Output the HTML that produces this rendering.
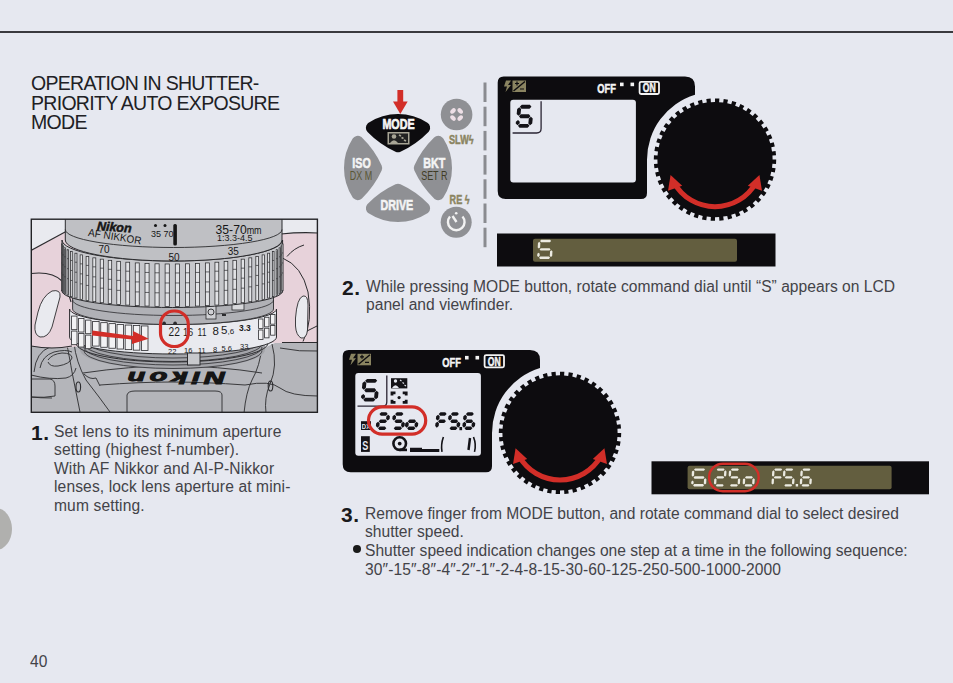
<!DOCTYPE html>
<html><head><meta charset="utf-8">
<style>
html,body{margin:0;padding:0;}
body{width:953px;height:683px;position:relative;overflow:hidden;background:#e6e8f0;font-family:"Liberation Sans",sans-serif;color:#222;}
.a{position:absolute;}
.rule{left:0;top:31px;width:953px;height:2px;background:#3a3a3e;}
.title{left:31px;top:74px;font-size:19.5px;line-height:19.6px;letter-spacing:-0.7px;color:#202024;white-space:nowrap;}
.txt{font-size:15.6px;white-space:nowrap;color:#434348;}
.num{font-weight:bold;font-size:21px;line-height:21px;color:#1a1a1c;letter-spacing:0.6px;}
</style></head><body>
<svg class="a" style="left:0;top:0" width="953" height="683" viewBox="0 0 953 683"><path d="M398,146.2 Q383.2,139.42 371.86,127.74 A48,48 0 0 1 424.14,127.74 Q412.8,139.42 398,146.2 Z" fill="#0d0c0f" stroke="#0d0c0f" stroke-width="12" stroke-linejoin="round"/><path d="M376.2,168 Q369.42,182.8 357.74,194.14 A48,48 0 0 1 357.74,141.86 Q369.42,153.2 376.2,168 Z" fill="#8f9094" stroke="#8f9094" stroke-width="12" stroke-linejoin="round"/><path d="M419.8,168 Q426.58,153.2 438.26,141.86 A48,48 0 0 1 438.26,194.14 Q426.58,182.8 419.8,168 Z" fill="#8f9094" stroke="#8f9094" stroke-width="12" stroke-linejoin="round"/><path d="M398,189.8 Q412.8,196.58 424.14,208.26 A48,48 0 0 1 371.86,208.26 Q383.2,196.58 398,189.8 Z" fill="#8f9094" stroke="#8f9094" stroke-width="12" stroke-linejoin="round"/><rect x="397.4" y="90" width="5.8" height="12" fill="#d22e28"/><path d="M393,101.5 L407.7,101.5 L400.3,114 Z" fill="#d22e28"/><text x="398.5" y="129.3" font-family="Liberation Sans" font-weight="bold" font-size="14.5" fill="#f6f6f6" stroke="#f6f6f6" stroke-width="0.7" text-anchor="middle" transform="translate(398.5,0) scale(0.74,1) translate(-398.5,0)">MODE</text><rect x="387.5" y="132" width="22" height="12.5" fill="#a8a596" /><rect x="389" y="133.5" width="19" height="9.5" fill="#222" /><circle cx="394" cy="136.5" r="2.3" fill="#a8a596"/><path d="M390,143 Q394,137.5 398,143 Z" fill="#a8a596"/><path d="M399,135 l2,1 M401.5,137.5 l2,1 M404,140 l2,1" stroke="#a8a596" stroke-width="1.6"/><text x="361.5" y="167.6" font-family="Liberation Sans" font-weight="bold" font-size="14.5" fill="#f4f4f4" stroke="#f4f4f4" stroke-width="0.6" text-anchor="middle" transform="translate(361.5,0) scale(0.74,1) translate(-361.5,0)">ISO</text><text x="361" y="180.5" font-family="Liberation Sans" font-weight="normal" font-size="12.5" fill="#5a5636" text-anchor="middle" transform="translate(361,0) scale(0.72,1) translate(-361,0)">DX M</text><text x="434.3" y="167.6" font-family="Liberation Sans" font-weight="bold" font-size="14.5" fill="#f4f4f4" stroke="#f4f4f4" stroke-width="0.6" text-anchor="middle" transform="translate(434.3,0) scale(0.74,1) translate(-434.3,0)">BKT</text><text x="434.3" y="180.5" font-family="Liberation Sans" font-weight="normal" font-size="12.5" fill="#3f3c26" text-anchor="middle" transform="translate(434.3,0) scale(0.72,1) translate(-434.3,0)">SET R</text><text x="396.8" y="210.4" font-family="Liberation Sans" font-weight="bold" font-size="14.5" fill="#f4f4f4" stroke="#f4f4f4" stroke-width="0.6" text-anchor="middle" transform="translate(396.8,0) scale(0.74,1) translate(-396.8,0)">DRIVE</text><circle cx="456.6" cy="114.5" r="15.8" fill="#8f9094"/><g fill="#eedfe6" transform="rotate(45 456.6 114.5)"><ellipse cx="456.6" cy="109.4" rx="3.2" ry="2.1"/><ellipse cx="456.6" cy="119.6" rx="3.2" ry="2.1"/><ellipse cx="451.5" cy="114.5" rx="2.1" ry="3.2"/><ellipse cx="461.7" cy="114.5" rx="2.1" ry="3.2"/></g><circle cx="456.2" cy="222.3" r="15.5" fill="#8f9094"/><path d="M450,216.5 A8.3,8.3 0 1 0 462.5,216.5" fill="none" stroke="#f2f2f2" stroke-width="2.4"/><path d="M452.5,216 L456.5,222" stroke="#f2f2f2" stroke-width="2.4"/><circle cx="456.2" cy="213.2" r="1.3" fill="#f2f2f2"/><text x="461.3" y="143.6" font-family="Liberation Sans" font-weight="bold" font-size="13" fill="#8a8461" stroke="#8a8461" stroke-width="0.5" text-anchor="middle" transform="translate(461.3,0) scale(0.7,1) translate(-461.3,0)">SLW&#x03DF;</text><text x="459.6" y="204" font-family="Liberation Sans" font-weight="bold" font-size="13" fill="#8a8461" stroke="#8a8461" stroke-width="0.5" text-anchor="middle" transform="translate(459.6,0) scale(0.7,1) translate(-459.6,0)">RE &#x03DF;</text><rect x="483.5" y="82.5" width="3" height="19.5" fill="#8a8b90"/><rect x="483.5" y="106.7" width="3" height="19.5" fill="#8a8b90"/><rect x="483.5" y="130.9" width="3" height="19.5" fill="#8a8b90"/><rect x="483.5" y="155.1" width="3" height="19.5" fill="#8a8b90"/><rect x="483.5" y="179.3" width="3" height="19.5" fill="#8a8b90"/><rect x="483.5" y="203.5" width="3" height="19.5" fill="#8a8b90"/><rect x="483.5" y="227.7" width="3" height="19.5" fill="#8a8b90"/><g transform="translate(0,0)"><path d="M503.7,76.6 L685,76.6 Q695,76.6 695,86.6 L695,94.71 A68,68 0 0 0 647,159.7 L647,193 Q647,199 641,199 L505.7,199 Q497.7,199 497.7,191 L497.7,82.6 Q497.7,76.6 503.7,76.6 Z" fill="#0d0c0f"/><rect x="510.3" y="99.7" width="125.6" height="82.7" rx="3" fill="#e6e8f0"/><path d="M772.6,159.6 L776.2,159.6 L776.04,163.97 L772.45,163.71 L772.01,167.8 L775.58,168.31 L774.8,172.61 L771.28,171.84 L770.27,175.83 L773.72,176.84 L772.34,180.99 L768.97,179.73 L767.39,183.53 L770.67,185.02 L768.71,188.93 L765.55,187.2 L763.46,190.74 L766.48,192.69 L763.99,196.28 L761.11,194.12 L758.53,197.32 L761.25,199.68 L758.27,202.87 L755.73,200.33 L752.72,203.13 L755.08,205.85 L751.68,208.59 L749.52,205.71 L746.14,208.06 L748.09,211.08 L744.33,213.31 L742.6,210.15 L738.93,211.99 L740.42,215.27 L736.39,216.94 L735.13,213.57 L731.23,214.87 L732.24,218.32 L728.01,219.4 L727.24,215.88 L723.2,216.61 L723.71,220.18 L719.37,220.64 L719.11,217.05 L715,217.2 L715,220.8 L710.63,220.64 L710.89,217.05 L706.8,216.61 L706.29,220.18 L701.99,219.4 L702.76,215.88 L698.77,214.87 L697.76,218.32 L693.61,216.94 L694.87,213.57 L691.07,211.99 L689.58,215.27 L685.67,213.31 L687.4,210.15 L683.86,208.06 L681.91,211.08 L678.32,208.59 L680.48,205.71 L677.28,203.13 L674.92,205.85 L671.73,202.87 L674.27,200.33 L671.47,197.32 L668.75,199.68 L666.01,196.28 L668.89,194.12 L666.54,190.74 L663.52,192.69 L661.29,188.93 L664.45,187.2 L662.61,183.53 L659.33,185.02 L657.66,180.99 L661.03,179.73 L659.73,175.83 L656.28,176.84 L655.2,172.61 L658.72,171.84 L657.99,167.8 L654.42,168.31 L653.96,163.97 L657.55,163.71 L657.4,159.6 L653.8,159.6 L653.96,155.23 L657.55,155.49 L657.99,151.4 L654.42,150.89 L655.2,146.59 L658.72,147.36 L659.73,143.37 L656.28,142.36 L657.66,138.21 L661.03,139.47 L662.61,135.67 L659.33,134.18 L661.29,130.27 L664.45,132 L666.54,128.46 L663.52,126.51 L666.01,122.92 L668.89,125.08 L671.47,121.88 L668.75,119.52 L671.73,116.33 L674.27,118.87 L677.28,116.07 L674.92,113.35 L678.32,110.61 L680.48,113.49 L683.86,111.14 L681.91,108.12 L685.67,105.89 L687.4,109.05 L691.07,107.21 L689.58,103.93 L693.61,102.26 L694.87,105.63 L698.77,104.33 L697.76,100.88 L701.99,99.8 L702.76,103.32 L706.8,102.59 L706.29,99.02 L710.63,98.56 L710.89,102.15 L715,102 L715,98.4 L719.37,98.56 L719.11,102.15 L723.2,102.59 L723.71,99.02 L728.01,99.8 L727.24,103.32 L731.23,104.33 L732.24,100.88 L736.39,102.26 L735.13,105.63 L738.93,107.21 L740.42,103.93 L744.33,105.89 L742.6,109.05 L746.14,111.14 L748.09,108.12 L751.68,110.61 L749.52,113.49 L752.72,116.07 L755.08,113.35 L758.27,116.33 L755.73,118.87 L758.53,121.88 L761.25,119.52 L763.99,122.92 L761.11,125.08 L763.46,128.46 L766.48,126.51 L768.71,130.27 L765.55,132 L767.39,135.67 L770.67,134.18 L772.34,138.21 L768.97,139.47 L770.27,143.37 L773.72,142.36 L774.8,146.59 L771.28,147.36 L772.01,151.4 L775.58,150.89 L776.04,155.23 L772.45,155.49Z" fill="#0d0c0f"/><path d="M673.89,182.49 A47,47 0 0 0 756.11,182.49" fill="none" stroke="#d22e28" stroke-width="5"/><path d="M670.56,175 L682.21,185.8 L668.03,190.68 Z" fill="#d22e28"/><path d="M759.44,175 L761.97,190.68 L747.79,185.8 Z" fill="#d22e28"/><g fill="#8a8461"><path d="M506,80.5 L511,80.5 L508,85 L511,85 L505.5,92 L507,86.5 L504,86.5 Z"/><path d="M512.5,80.5 L526,80.5 L526,92 L512.5,92 Z"/></g><path d="M513.5,91 L525,81.5" stroke="#0d0c0f" stroke-width="1.4"/><path d="M515,83.5 h4 M517,81.5 v4 M520,89 h4" stroke="#0d0c0f" stroke-width="1.2"/><text x="606.5" y="93.3" font-family="Liberation Sans" font-weight="bold" font-size="13" fill="#f4f4f4" stroke="#f4f4f4" stroke-width="0.5" text-anchor="middle" transform="translate(606.5,0) scale(0.72,1) translate(-606.5,0)">OFF</text><rect x="620" y="82.6" width="3.6" height="3.6" fill="#f4f4f4"/><rect x="630.5" y="82.6" width="3.6" height="3.6" fill="#f4f4f4"/><rect x="639.6" y="81.8" width="19.4" height="12.2" rx="1.5" fill="none" stroke="#f4f4f4" stroke-width="1.8"/><text x="649.3" y="92.4" font-family="Liberation Sans" font-weight="bold" font-size="12" fill="#f4f4f4" stroke="#f4f4f4" stroke-width="0.5" text-anchor="middle" transform="translate(649.3,0) scale(0.72,1) translate(-649.3,0)">ON</text></g><g transform="translate(-155,273.3)"><path d="M503.7,76.6 L685,76.6 Q695,76.6 695,86.6 L695,94.71 A68,68 0 0 0 647,159.7 L647,193 Q647,199 641,199 L505.7,199 Q497.7,199 497.7,191 L497.7,82.6 Q497.7,76.6 503.7,76.6 Z" fill="#0d0c0f"/><rect x="510.3" y="99.7" width="125.6" height="82.7" rx="3" fill="#e6e8f0"/><path d="M772.6,159.6 L776.2,159.6 L776.04,163.97 L772.45,163.71 L772.01,167.8 L775.58,168.31 L774.8,172.61 L771.28,171.84 L770.27,175.83 L773.72,176.84 L772.34,180.99 L768.97,179.73 L767.39,183.53 L770.67,185.02 L768.71,188.93 L765.55,187.2 L763.46,190.74 L766.48,192.69 L763.99,196.28 L761.11,194.12 L758.53,197.32 L761.25,199.68 L758.27,202.87 L755.73,200.33 L752.72,203.13 L755.08,205.85 L751.68,208.59 L749.52,205.71 L746.14,208.06 L748.09,211.08 L744.33,213.31 L742.6,210.15 L738.93,211.99 L740.42,215.27 L736.39,216.94 L735.13,213.57 L731.23,214.87 L732.24,218.32 L728.01,219.4 L727.24,215.88 L723.2,216.61 L723.71,220.18 L719.37,220.64 L719.11,217.05 L715,217.2 L715,220.8 L710.63,220.64 L710.89,217.05 L706.8,216.61 L706.29,220.18 L701.99,219.4 L702.76,215.88 L698.77,214.87 L697.76,218.32 L693.61,216.94 L694.87,213.57 L691.07,211.99 L689.58,215.27 L685.67,213.31 L687.4,210.15 L683.86,208.06 L681.91,211.08 L678.32,208.59 L680.48,205.71 L677.28,203.13 L674.92,205.85 L671.73,202.87 L674.27,200.33 L671.47,197.32 L668.75,199.68 L666.01,196.28 L668.89,194.12 L666.54,190.74 L663.52,192.69 L661.29,188.93 L664.45,187.2 L662.61,183.53 L659.33,185.02 L657.66,180.99 L661.03,179.73 L659.73,175.83 L656.28,176.84 L655.2,172.61 L658.72,171.84 L657.99,167.8 L654.42,168.31 L653.96,163.97 L657.55,163.71 L657.4,159.6 L653.8,159.6 L653.96,155.23 L657.55,155.49 L657.99,151.4 L654.42,150.89 L655.2,146.59 L658.72,147.36 L659.73,143.37 L656.28,142.36 L657.66,138.21 L661.03,139.47 L662.61,135.67 L659.33,134.18 L661.29,130.27 L664.45,132 L666.54,128.46 L663.52,126.51 L666.01,122.92 L668.89,125.08 L671.47,121.88 L668.75,119.52 L671.73,116.33 L674.27,118.87 L677.28,116.07 L674.92,113.35 L678.32,110.61 L680.48,113.49 L683.86,111.14 L681.91,108.12 L685.67,105.89 L687.4,109.05 L691.07,107.21 L689.58,103.93 L693.61,102.26 L694.87,105.63 L698.77,104.33 L697.76,100.88 L701.99,99.8 L702.76,103.32 L706.8,102.59 L706.29,99.02 L710.63,98.56 L710.89,102.15 L715,102 L715,98.4 L719.37,98.56 L719.11,102.15 L723.2,102.59 L723.71,99.02 L728.01,99.8 L727.24,103.32 L731.23,104.33 L732.24,100.88 L736.39,102.26 L735.13,105.63 L738.93,107.21 L740.42,103.93 L744.33,105.89 L742.6,109.05 L746.14,111.14 L748.09,108.12 L751.68,110.61 L749.52,113.49 L752.72,116.07 L755.08,113.35 L758.27,116.33 L755.73,118.87 L758.53,121.88 L761.25,119.52 L763.99,122.92 L761.11,125.08 L763.46,128.46 L766.48,126.51 L768.71,130.27 L765.55,132 L767.39,135.67 L770.67,134.18 L772.34,138.21 L768.97,139.47 L770.27,143.37 L773.72,142.36 L774.8,146.59 L771.28,147.36 L772.01,151.4 L775.58,150.89 L776.04,155.23 L772.45,155.49Z" fill="#0d0c0f"/><path d="M673.89,182.49 A47,47 0 0 0 756.11,182.49" fill="none" stroke="#d22e28" stroke-width="5"/><path d="M670.56,175 L682.21,185.8 L668.03,190.68 Z" fill="#d22e28"/><path d="M759.44,175 L761.97,190.68 L747.79,185.8 Z" fill="#d22e28"/><g fill="#8a8461"><path d="M506,80.5 L511,80.5 L508,85 L511,85 L505.5,92 L507,86.5 L504,86.5 Z"/><path d="M512.5,80.5 L526,80.5 L526,92 L512.5,92 Z"/></g><path d="M513.5,91 L525,81.5" stroke="#0d0c0f" stroke-width="1.4"/><path d="M515,83.5 h4 M517,81.5 v4 M520,89 h4" stroke="#0d0c0f" stroke-width="1.2"/><text x="606.5" y="93.3" font-family="Liberation Sans" font-weight="bold" font-size="13" fill="#f4f4f4" stroke="#f4f4f4" stroke-width="0.5" text-anchor="middle" transform="translate(606.5,0) scale(0.72,1) translate(-606.5,0)">OFF</text><rect x="620" y="82.6" width="3.6" height="3.6" fill="#f4f4f4"/><rect x="630.5" y="82.6" width="3.6" height="3.6" fill="#f4f4f4"/><rect x="639.6" y="81.8" width="19.4" height="12.2" rx="1.5" fill="none" stroke="#f4f4f4" stroke-width="1.8"/><text x="649.3" y="92.4" font-family="Liberation Sans" font-weight="bold" font-size="12" fill="#f4f4f4" stroke="#f4f4f4" stroke-width="0.5" text-anchor="middle" transform="translate(649.3,0) scale(0.72,1) translate(-649.3,0)">ON</text></g><rect x="497" y="233.5" width="278.5" height="33" fill="#0d0c0f"/><rect x="533" y="238.7" width="204" height="23" rx="2" fill="#635e3f"/><rect x="651.5" y="461.3" width="277.5" height="33" fill="#0d0c0f"/><rect x="687.6" y="465.8" width="204" height="23.5" rx="2" fill="#635e3f"/><defs><clipPath id="bx"><rect x="31.3" y="219.2" width="286.09999999999997" height="193.10000000000002"/></clipPath></defs><g clip-path="url(#bx)"><rect x="31.3" y="219.2" width="286.09999999999997" height="193.10000000000002" fill="#e9eaef"/><path d="M31,346 L75,346 L90,352 Q172,372 255,352 L275,343 L318,343 L318,413 L31,413 Z" fill="#b4b5ba"/><g fill="none" stroke="#2b2b2e" stroke-width="0.9"><path d="M34,372 Q36,352 50,347 L72,346"/><path d="M40,368 Q42,356 54,352 Q66,349 72,352"/><path d="M48,360 Q52,354 62,353 Q72,353 72,358 Q70,364 58,366 Q50,367 48,362"/><path d="M31,375 Q50,380 66,378 Q74,376 76,368"/><path d="M31,379 L50,379 Q55,380 55,386 L55,396 Q45,398 31,397"/><path d="M66,340 Q70,360 72,372 Q76,392 80,412"/><path d="M74,343 Q76,362 86,380 Q100,398 110,412"/><path d="M83,373 Q130,366 172,366 Q218,366 262,373"/><path d="M100,385 Q140,382 172,382 Q205,382 245,385"/><path d="M84,374 Q90,380 96,378 L100,386"/><path d="M127,413 L127,395 Q128,391 135,391 L215,391 Q222,391 222,395 L222,413"/><path d="M262,346 Q260,366 252,380 Q246,392 244,413"/><path d="M272,344 Q278,366 270,384 Q264,398 266,413"/><path d="M280,348 Q300,352 318,351"/><path d="M245,385 Q270,380 280,388 Q290,396 318,396"/><path d="M31,397 Q40,398 52,398"/></g><ellipse cx="78.3" cy="387" rx="2.3" ry="5" fill="none" stroke="#2b2b2e" stroke-width="1.1"/><ellipse cx="270.5" cy="386" rx="2.3" ry="5" fill="none" stroke="#2b2b2e" stroke-width="1.1"/><ellipse cx="89" cy="353" rx="2.4" ry="1.3" fill="#2b2b2e"/><text x="173" y="360.5" font-family="Liberation Sans" font-weight="bold" font-style="italic" font-size="17" fill="#151515" text-anchor="middle" letter-spacing="2.6" stroke="#151515" stroke-width="1" transform="rotate(180 173.5 366.2) translate(173.5,0) scale(1.7,1) translate(-173.5,0)">Nikon</text><path d="M31,250.5 L66,231.5 L80,231.5 L80,346 Q60,350 31,346 Z" fill="#e7d2da"/><path d="M31,250.5 L66,231.5" stroke="#2b2b2e" stroke-width="1.1" fill="none"/><path d="M31,273.5 Q52,271 62,281 Q68,290 71,302" stroke="#2b2b2e" stroke-width="1.1" fill="none"/><path d="M31,346 Q52,350 72,346" stroke="#2b2b2e" stroke-width="1.1" fill="none"/><path d="M38,312 Q42,296 52,291 Q61,289 60,297 L52,327 Q48,338 40,337 Q34,335 35,325 Z" fill="#e9eaef" stroke="#2b2b2e" stroke-width="0.9"/><path d="M270,234 Q295,233 318,233 L318,343 L270,343 Z" fill="#e7d2da"/><path d="M281,234 Q300,232 318,233" stroke="#2b2b2e" stroke-width="1.1" fill="none"/><path d="M282.5,258 Q302,266 308,292 Q313,322 303,341.5 M282,342.5 L318,342.5 M287,256.5 Q294,248 304,245 M307,331 L318,325.5" stroke="#2b2b2e" stroke-width="1" fill="none"/><path d="M295.5,318 Q297,298 303,296 Q308,295 308,305 L307.5,330 Q306.5,339 301,338 Q296,335 295.5,326 Z" fill="#e9eaef" stroke="#2b2b2e" stroke-width="0.9"/><path d="M80,330 L80,350 A92.5,19 0 0 0 265,350 L265,330 Z" fill="#a4a5aa"/><path d="M84,340 A89,18 0 0 0 262,340" fill="none" stroke="#2b2b2e" stroke-width="0.8"/><path d="M84,343.5 A89,18 0 0 0 262,343.5" fill="none" stroke="#2b2b2e" stroke-width="0.8"/><path d="M84,347 A89,18 0 0 0 262,347" fill="none" stroke="#2b2b2e" stroke-width="0.8"/><path d="M84,350.5 A89,18 0 0 0 262,350.5" fill="none" stroke="#2b2b2e" stroke-width="0.8"/><path d="M76,340 L76,343 A96,19 0 0 0 268,343 L268,340" fill="none" stroke="#2b2b2e" stroke-width="1"/><path d="M69.6,309 A103.45,15.5 0 0 0 276.5,309 L276.5,337 A103.45,17 0 0 1 69.6,337 Z" fill="#e9eaef" stroke="#2b2b2e" stroke-width="1"/><g><rect x="71.6" y="316.07" width="5.4" height="13.6" fill="#f2f2f4" stroke="#2b2b2e" stroke-width="0.8"/><rect x="71.6" y="331.07" width="5.4" height="13.6" fill="#f2f2f4" stroke="#2b2b2e" stroke-width="0.8"/><rect x="78.6" y="318.44" width="5.4" height="13.6" fill="#f2f2f4" stroke="#2b2b2e" stroke-width="0.8"/><rect x="78.6" y="333.44" width="5.4" height="13.6" fill="#f2f2f4" stroke="#2b2b2e" stroke-width="0.8"/><rect x="85.6" y="320.1" width="5.4" height="13.6" fill="#f2f2f4" stroke="#2b2b2e" stroke-width="0.8"/><rect x="85.6" y="335.1" width="5.4" height="13.6" fill="#f2f2f4" stroke="#2b2b2e" stroke-width="0.8"/><rect x="92.6" y="321.48" width="6.54" height="24.6" fill="#f2f2f4" stroke="#2b2b2e" stroke-width="0.8"/><rect x="100.74" y="322.67" width="6.54" height="24.6" fill="#f2f2f4" stroke="#2b2b2e" stroke-width="0.8"/><rect x="108.89" y="323.64" width="6.54" height="24.6" fill="#f2f2f4" stroke="#2b2b2e" stroke-width="0.8"/><rect x="117.03" y="324.42" width="6.54" height="24.6" fill="#f2f2f4" stroke="#2b2b2e" stroke-width="0.8"/><rect x="125.17" y="325.05" width="6.54" height="24.6" fill="#f2f2f4" stroke="#2b2b2e" stroke-width="0.8"/><rect x="133.31" y="325.56" width="6.54" height="24.6" fill="#f2f2f4" stroke="#2b2b2e" stroke-width="0.8"/><rect x="141.46" y="325.95" width="6.54" height="24.6" fill="#f2f2f4" stroke="#2b2b2e" stroke-width="0.8"/><rect x="258.6" y="318.99" width="4.4" height="9.6" fill="#f2f2f4" stroke="#2b2b2e" stroke-width="0.8"/><rect x="258.6" y="329.99" width="4.4" height="9.6" fill="#f2f2f4" stroke="#2b2b2e" stroke-width="0.8"/><rect x="264.6" y="317.25" width="4.4" height="9.6" fill="#f2f2f4" stroke="#2b2b2e" stroke-width="0.8"/><rect x="264.6" y="328.25" width="4.4" height="9.6" fill="#f2f2f4" stroke="#2b2b2e" stroke-width="0.8"/><rect x="270.6" y="314.58" width="4.4" height="9.6" fill="#f2f2f4" stroke="#2b2b2e" stroke-width="0.8"/><rect x="270.6" y="325.58" width="4.4" height="9.6" fill="#f2f2f4" stroke="#2b2b2e" stroke-width="0.8"/></g><path d="M72.6,291 L72.6,309 A100.45,15.5 0 0 0 273.5,309 L273.5,291 Z" fill="#b0b1b6" stroke="#2b2b2e" stroke-width="0.9"/><path d="M72.6,300 A100.45,15.5 0 0 0 273.5,300" fill="none" stroke="#2b2b2e" stroke-width="0.8"/><rect x="206" y="305" width="10" height="14" fill="#cfd0d4" stroke="#2b2b2e" stroke-width="0.8"/><circle cx="211" cy="312" r="3" fill="none" stroke="#2b2b2e" stroke-width="0.9"/><rect x="232" y="300" width="12" height="10" fill="#d8d9dc" stroke="#2b2b2e" stroke-width="0.8"/><rect x="222" y="314" width="4" height="2" fill="#2b2b2e"/><g font-family="Liberation Sans" fill="#1b1b1b"><g transform="translate(168.5,0) scale(0.85,1) translate(-168.5,0)"><text x="168.5" y="336.5" font-size="12">22</text></g><g font-size="11.5"><text x="183" y="336.5" transform="translate(183,0) scale(0.8,1) translate(-183,0)">16</text><text x="197.5" y="336" transform="translate(197.5,0) scale(0.75,1) translate(-197.5,0)">11</text><text x="212.5" y="335">8</text><text x="221" y="334">5<tspan font-size="8">,6</tspan></text></g><text x="239" y="331" font-size="8.5" font-weight="bold">3.3</text><text x="168" y="353.5" font-size="7.5">22</text><text x="184" y="353" font-size="7.5">16</text><text x="198" y="352.5" font-size="7.5">11</text><text x="213" y="352" font-size="7.5">8</text><text x="221.5" y="351" font-size="7.5">5.6</text><text x="240" y="348.5" font-size="7.5">33</text></g><rect x="187.5" y="353" width="12.5" height="12" fill="#c8c9cd" stroke="#2b2b2e" stroke-width="1"/><circle cx="164.1" cy="323.2" r="1.8" fill="#2b2b2e"/><circle cx="175.1" cy="323.2" r="1.8" fill="#2b2b2e"/><path d="M62,240 A110.3,21 0 0 0 282.6,240 L282.6,291 A110.3,16.5 0 0 1 62,291 Z" fill="#c6c7cb" stroke="#2b2b2e" stroke-width="1"/><g><rect x="61.52" y="243.97" width="1.2" height="46.79" fill="#e2e3e6" stroke="#2b2b2e" stroke-width="0.75"/><path d="M61.52,252.97 h1.2 M61.52,262.97 h1.2 M61.52,272.97 h1.2" stroke="#2b2b2e" stroke-width="0.7"/><rect x="62.46" y="245.9" width="1.2" height="46.38" fill="#e2e3e6" stroke="#2b2b2e" stroke-width="0.75"/><path d="M62.46,254.9 h1.2 M62.46,264.9 h1.2 M62.46,274.9 h1.2" stroke="#2b2b2e" stroke-width="0.7"/><rect x="64.33" y="247.81" width="1.2" height="45.97" fill="#e2e3e6" stroke="#2b2b2e" stroke-width="0.75"/><path d="M64.33,256.81 h1.2 M64.33,266.81 h1.2 M64.33,276.81 h1.2" stroke="#2b2b2e" stroke-width="0.7"/><rect x="67.05" y="249.67" width="1.33" height="45.57" fill="#e2e3e6" stroke="#2b2b2e" stroke-width="0.75"/><path d="M67.05,258.67 h1.33 M67.05,268.67 h1.33 M67.05,278.67 h1.33" stroke="#2b2b2e" stroke-width="0.7"/><rect x="70.55" y="251.48" width="1.7" height="45.18" fill="#e2e3e6" stroke="#2b2b2e" stroke-width="0.75"/><path d="M70.55,260.48 h1.7 M70.55,270.48 h1.7 M70.55,280.48 h1.7" stroke="#2b2b2e" stroke-width="0.7"/><rect x="74.92" y="253.22" width="2.04" height="44.81" fill="#e2e3e6" stroke="#2b2b2e" stroke-width="0.75"/><path d="M74.92,262.22 h2.04 M74.92,272.22 h2.04 M74.92,282.22 h2.04" stroke="#2b2b2e" stroke-width="0.7"/><rect x="80.12" y="254.87" width="2.37" height="44.46" fill="#e2e3e6" stroke="#2b2b2e" stroke-width="0.75"/><path d="M80.12,263.87 h2.37 M80.12,273.87 h2.37 M80.12,283.87 h2.37" stroke="#2b2b2e" stroke-width="0.7"/><rect x="86.1" y="256.42" width="2.68" height="44.13" fill="#e2e3e6" stroke="#2b2b2e" stroke-width="0.75"/><path d="M86.1,265.42 h2.68 M86.1,275.42 h2.68 M86.1,285.42 h2.68" stroke="#2b2b2e" stroke-width="0.7"/><rect x="92.82" y="257.85" width="2.97" height="43.82" fill="#e2e3e6" stroke="#2b2b2e" stroke-width="0.75"/><path d="M92.82,266.85 h2.97 M92.82,276.85 h2.97 M92.82,286.85 h2.97" stroke="#2b2b2e" stroke-width="0.7"/><rect x="100.22" y="259.16" width="3.23" height="43.54" fill="#e2e3e6" stroke="#2b2b2e" stroke-width="0.75"/><path d="M100.22,268.16 h3.23 M100.22,278.16 h3.23 M100.22,288.16 h3.23" stroke="#2b2b2e" stroke-width="0.7"/><rect x="108.23" y="260.32" width="3.46" height="43.29" fill="#e2e3e6" stroke="#2b2b2e" stroke-width="0.75"/><path d="M108.23,269.32 h3.46 M108.23,279.32 h3.46 M108.23,289.32 h3.46" stroke="#2b2b2e" stroke-width="0.7"/><rect x="116.79" y="261.35" width="3.67" height="43.07" fill="#e2e3e6" stroke="#2b2b2e" stroke-width="0.75"/><path d="M116.79,270.35 h3.67 M116.79,280.35 h3.67 M116.79,290.35 h3.67" stroke="#2b2b2e" stroke-width="0.7"/><rect x="125.83" y="262.21" width="3.84" height="42.88" fill="#e2e3e6" stroke="#2b2b2e" stroke-width="0.75"/><path d="M125.83,271.21 h3.84 M125.83,281.21 h3.84 M125.83,291.21 h3.84" stroke="#2b2b2e" stroke-width="0.7"/><rect x="135.26" y="262.91" width="3.98" height="42.73" fill="#e2e3e6" stroke="#2b2b2e" stroke-width="0.75"/><path d="M135.26,271.91 h3.98 M135.26,281.91 h3.98 M135.26,291.91 h3.98" stroke="#2b2b2e" stroke-width="0.7"/><rect x="145" y="263.44" width="4.09" height="42.62" fill="#e2e3e6" stroke="#2b2b2e" stroke-width="0.75"/><path d="M145,272.44 h4.09 M145,282.44 h4.09 M145,292.44 h4.09" stroke="#2b2b2e" stroke-width="0.7"/><rect x="154.98" y="263.8" width="4.16" height="42.54" fill="#e2e3e6" stroke="#2b2b2e" stroke-width="0.75"/><path d="M154.98,272.8 h4.16 M154.98,282.8 h4.16 M154.98,292.8 h4.16" stroke="#2b2b2e" stroke-width="0.7"/><rect x="165.11" y="263.98" width="4.2" height="42.5" fill="#e2e3e6" stroke="#2b2b2e" stroke-width="0.75"/><path d="M165.11,272.98 h4.2 M165.11,282.98 h4.2 M165.11,292.98 h4.2" stroke="#2b2b2e" stroke-width="0.7"/><rect x="175.3" y="263.98" width="4.2" height="42.5" fill="#e2e3e6" stroke="#2b2b2e" stroke-width="0.75"/><path d="M175.3,272.98 h4.2 M175.3,282.98 h4.2 M175.3,292.98 h4.2" stroke="#2b2b2e" stroke-width="0.7"/><rect x="185.46" y="263.8" width="4.16" height="42.54" fill="#e2e3e6" stroke="#2b2b2e" stroke-width="0.75"/><path d="M185.46,272.8 h4.16 M185.46,282.8 h4.16 M185.46,292.8 h4.16" stroke="#2b2b2e" stroke-width="0.7"/><rect x="195.51" y="263.44" width="4.09" height="42.62" fill="#e2e3e6" stroke="#2b2b2e" stroke-width="0.75"/><path d="M195.51,272.44 h4.09 M195.51,282.44 h4.09 M195.51,292.44 h4.09" stroke="#2b2b2e" stroke-width="0.7"/><rect x="205.36" y="262.91" width="3.98" height="42.73" fill="#e2e3e6" stroke="#2b2b2e" stroke-width="0.75"/><path d="M205.36,271.91 h3.98 M205.36,281.91 h3.98 M205.36,291.91 h3.98" stroke="#2b2b2e" stroke-width="0.7"/><rect x="214.93" y="262.21" width="3.84" height="42.88" fill="#e2e3e6" stroke="#2b2b2e" stroke-width="0.75"/><path d="M214.93,271.21 h3.84 M214.93,281.21 h3.84 M214.93,291.21 h3.84" stroke="#2b2b2e" stroke-width="0.7"/><rect x="224.14" y="261.35" width="3.67" height="43.07" fill="#e2e3e6" stroke="#2b2b2e" stroke-width="0.75"/><path d="M224.14,270.35 h3.67 M224.14,280.35 h3.67 M224.14,290.35 h3.67" stroke="#2b2b2e" stroke-width="0.7"/><rect x="232.9" y="260.32" width="3.46" height="43.29" fill="#e2e3e6" stroke="#2b2b2e" stroke-width="0.75"/><path d="M232.9,269.32 h3.46 M232.9,279.32 h3.46 M232.9,289.32 h3.46" stroke="#2b2b2e" stroke-width="0.7"/><rect x="241.15" y="259.16" width="3.23" height="43.54" fill="#e2e3e6" stroke="#2b2b2e" stroke-width="0.75"/><path d="M241.15,268.16 h3.23 M241.15,278.16 h3.23 M241.15,288.16 h3.23" stroke="#2b2b2e" stroke-width="0.7"/><rect x="248.81" y="257.85" width="2.97" height="43.82" fill="#e2e3e6" stroke="#2b2b2e" stroke-width="0.75"/><path d="M248.81,266.85 h2.97 M248.81,276.85 h2.97 M248.81,286.85 h2.97" stroke="#2b2b2e" stroke-width="0.7"/><rect x="255.82" y="256.42" width="2.68" height="44.13" fill="#e2e3e6" stroke="#2b2b2e" stroke-width="0.75"/><path d="M255.82,265.42 h2.68 M255.82,275.42 h2.68 M255.82,285.42 h2.68" stroke="#2b2b2e" stroke-width="0.7"/><rect x="262.11" y="254.87" width="2.37" height="44.46" fill="#e2e3e6" stroke="#2b2b2e" stroke-width="0.75"/><path d="M262.11,263.87 h2.37 M262.11,273.87 h2.37 M262.11,283.87 h2.37" stroke="#2b2b2e" stroke-width="0.7"/><rect x="267.64" y="253.22" width="2.04" height="44.81" fill="#e2e3e6" stroke="#2b2b2e" stroke-width="0.75"/><path d="M267.64,262.22 h2.04 M267.64,272.22 h2.04 M267.64,282.22 h2.04" stroke="#2b2b2e" stroke-width="0.7"/><rect x="272.35" y="251.48" width="1.7" height="45.18" fill="#e2e3e6" stroke="#2b2b2e" stroke-width="0.75"/><path d="M272.35,260.48 h1.7 M272.35,270.48 h1.7 M272.35,280.48 h1.7" stroke="#2b2b2e" stroke-width="0.7"/><rect x="276.21" y="249.67" width="1.33" height="45.57" fill="#e2e3e6" stroke="#2b2b2e" stroke-width="0.75"/><path d="M276.21,258.67 h1.33 M276.21,268.67 h1.33 M276.21,278.67 h1.33" stroke="#2b2b2e" stroke-width="0.7"/><rect x="279.07" y="247.81" width="1.2" height="45.97" fill="#e2e3e6" stroke="#2b2b2e" stroke-width="0.75"/><path d="M279.07,256.81 h1.2 M279.07,266.81 h1.2 M279.07,276.81 h1.2" stroke="#2b2b2e" stroke-width="0.7"/><rect x="280.94" y="245.9" width="1.2" height="46.38" fill="#e2e3e6" stroke="#2b2b2e" stroke-width="0.75"/><path d="M280.94,254.9 h1.2 M280.94,264.9 h1.2 M280.94,274.9 h1.2" stroke="#2b2b2e" stroke-width="0.7"/><rect x="281.88" y="243.97" width="1.2" height="46.79" fill="#e2e3e6" stroke="#2b2b2e" stroke-width="0.75"/><path d="M281.88,252.97 h1.2 M281.88,262.97 h1.2 M281.88,272.97 h1.2" stroke="#2b2b2e" stroke-width="0.7"/></g><path d="M65.3,218 L282,218 L282,240 A108.35,21 0 0 1 65.3,240 Z" fill="#bfc0c4" stroke="#2b2b2e" stroke-width="1"/><path d="M65.3,229.5 A108.35,18 0 0 0 282,229.5" fill="none" stroke="#2b2b2e" stroke-width="0.9"/><g font-family="Liberation Sans" fill="#161616"><text x="97" y="231.5" font-size="12.5" font-weight="bold" font-style="italic" stroke="#161616" stroke-width="0.5" transform="rotate(4 115 226) translate(97,0) scale(1.0,1) translate(-97,0)">Nikon</text><text x="88" y="239.5" font-size="10.5" transform="rotate(9 111 236) translate(88,0) scale(0.95,1) translate(-88,0)">AF NIKKOR</text><text x="151" y="237" font-size="9">35 70</text><text x="215.6" y="234.5" font-size="13.5" transform="translate(215.6,0) scale(0.9,1) translate(-215.6,0)">35-70<tspan font-size="10">mm</tspan></text><text x="217" y="241.5" font-size="9.5" transform="translate(217,0) scale(0.95,1) translate(-217,0)">1:3.3-4.5</text><text x="98.5" y="253" font-size="10">70</text><text x="168.5" y="260.5" font-size="10">50</text><text x="227.8" y="254.6" font-size="10">35</text></g><rect x="173.3" y="224" width="3.6" height="21.4" rx="1.5" fill="#161616"/><circle cx="155.5" cy="225.5" r="1.5" fill="#161616"/><circle cx="165" cy="225.5" r="1.5" fill="#161616"/><path d="M92.4,330.5 L133,336 L133,331 L148.7,338.8 L132,344 L132,339.5 L92,335.5 Z" fill="#d22e28"/><rect x="160.5" y="311" width="27.8" height="35.5" rx="13.5" fill="none" stroke="#d22e28" stroke-width="3.2"/></g><rect x="31.3" y="219.2" width="286.09999999999997" height="193.10000000000002" fill="none" stroke="#232326" stroke-width="1.4"/><path d="M517.75,106.75 L519.5,104.8 L527.59,104.8 L529.35,106.75 L527.59,108.7 L519.5,108.7 ZM517.25,107.25 L519.2,109 L519.2,114.05 L517.25,115.8 L515.3,114.05 L515.3,109 ZM517.75,116.3 L519.5,114.35 L527.59,114.35 L529.35,116.3 L527.59,118.25 L519.5,118.25 ZM529.85,116.8 L531.8,118.55 L531.8,123.59 L529.85,125.35 L527.9,123.59 L527.9,118.55 ZM517.75,125.85 L519.5,123.9 L527.59,123.9 L529.35,125.85 L527.59,127.8 L519.5,127.8 ZM517.25,120.12 L519.2,121.87 L519.2,123.59 L517.25,125.35 L515.3,123.59 L515.3,121.87 Z" fill="#141318" transform="matrix(1,0,-0.1,1,12.78,0)"/><path d="M541.1,101.3 L541.1,128.5 Q541.1,133 536.6,133 L512.6,133" fill="none" stroke="#2a2433" stroke-width="1.3"/><path d="M363.05,380.85 L364.81,378.9 L373.4,378.9 L375.15,380.85 L373.4,382.8 L364.81,382.8 ZM362.55,381.35 L364.5,383.1 L364.5,388 L362.55,389.75 L360.6,388 L360.6,383.1 ZM363.05,390.25 L364.81,388.3 L373.4,388.3 L375.15,390.25 L373.4,392.2 L364.81,392.2 ZM375.65,390.75 L377.6,392.5 L377.6,397.39 L375.65,399.15 L373.7,397.39 L373.7,392.5 ZM363.05,399.65 L364.81,397.7 L373.4,397.7 L375.15,399.65 L373.4,401.6 L364.81,401.6 ZM362.55,394.01 L364.5,395.76 L364.5,397.39 L362.55,399.15 L360.6,397.39 L360.6,395.76 Z" fill="#141318" transform="matrix(1,0,-0.1,1,40.16,0)"/><path d="M386.8,375.5 L386.8,402 Q386.8,406.2 382.6,406.2 L357.5,406.2" fill="none" stroke="#2a2433" stroke-width="1.3"/><rect x="391" y="378.2" width="16.3" height="10.2" fill="#141318"/><circle cx="395.5" cy="381" r="1.7" fill="#e6e8f0"/><path d="M392,388 Q395.5,382.5 399,388 Z" fill="#e6e8f0"/><path d="M400,380 l1.5,1 M402.5,382.5 l1.5,1 M404.5,385 l1.5,1" stroke="#e6e8f0" stroke-width="1.1"/><g fill="none" stroke="#141318" stroke-width="2.8"><path d="M392,395.5 L392,392.9 L395.5,392.9 M402.7,392.9 L406.2,392.9 L406.2,395.5 M406.2,399.7 L406.2,402.3 L402.7,402.3 M395.5,402.3 L392,402.3 L392,399.7"/></g><circle cx="399.1" cy="397.6" r="1.6" fill="#141318"/><rect x="361" y="421.2" width="10" height="8.8" fill="#141318"/><text x="366" y="428.8" font-family="Liberation Sans" font-weight="bold" font-size="7.5" fill="#e6e8f0" text-anchor="middle" transform="translate(366,0) scale(0.8,1) translate(-366,0)">DX</text><path d="M377.85,414.05 L379.43,412.3 L384.57,412.3 L386.15,414.05 L384.57,415.8 L379.43,415.8 ZM386.75,414.65 L388.5,416.23 L388.5,418.98 L386.75,420.55 L385,418.98 L385,416.23 ZM377.85,421.15 L379.43,419.4 L384.57,419.4 L386.15,421.15 L384.57,422.9 L379.43,422.9 ZM377.25,421.75 L379,423.33 L379,426.07 L377.25,427.65 L375.5,426.07 L375.5,423.33 ZM377.85,428.25 L379.43,426.5 L384.57,426.5 L386.15,428.25 L384.57,430 L379.43,430 Z" fill="#141318" transform="matrix(1,0,-0.1,1,43,0)"/><path d="M393.55,414.05 L395.12,412.3 L400.27,412.3 L401.85,414.05 L400.27,415.8 L395.12,415.8 ZM392.95,414.65 L394.7,416.23 L394.7,418.98 L392.95,420.55 L391.2,418.98 L391.2,416.23 ZM393.55,421.15 L395.12,419.4 L400.27,419.4 L401.85,421.15 L400.27,422.9 L395.12,422.9 ZM402.45,421.75 L404.2,423.33 L404.2,426.07 L402.45,427.65 L400.7,426.07 L400.7,423.33 ZM393.55,428.25 L395.12,426.5 L400.27,426.5 L401.85,428.25 L400.27,430 L395.12,430 Z" fill="#141318" transform="matrix(1,0,-0.1,1,43,0)"/><path d="M415.85,421.75 L417.6,423.33 L417.6,426.07 L415.85,427.65 L414.1,426.07 L414.1,423.33 ZM406.95,428.25 L408.53,426.5 L413.68,426.5 L415.25,428.25 L413.68,430 L408.53,430 ZM406.35,421.75 L408.1,423.33 L408.1,426.07 L406.35,427.65 L404.6,426.07 L404.6,423.33 ZM406.95,421.15 L408.53,419.4 L413.68,419.4 L415.25,421.15 L413.68,422.9 L408.53,422.9 Z" fill="#141318" transform="matrix(1,0,-0.1,1,43,0)"/><path d="M437.15,414.05 L438.73,412.3 L443.48,412.3 L445.05,414.05 L443.48,415.8 L438.73,415.8 ZM436.55,414.65 L438.3,416.23 L438.3,418.98 L436.55,420.55 L434.8,418.98 L434.8,416.23 ZM437.15,421.15 L438.73,419.4 L443.48,419.4 L445.05,421.15 L443.48,422.9 L438.73,422.9 ZM436.55,421.75 L438.3,423.33 L438.3,426.07 L436.55,427.65 L434.8,426.07 L434.8,423.33 Z" fill="#141318" transform="matrix(1,0,-0.1,1,43,0)"/><path d="M449.35,414.05 L450.93,412.3 L455.68,412.3 L457.25,414.05 L455.68,415.8 L450.93,415.8 ZM448.75,414.65 L450.5,416.23 L450.5,418.98 L448.75,420.55 L447,418.98 L447,416.23 ZM449.35,421.15 L450.93,419.4 L455.68,419.4 L457.25,421.15 L455.68,422.9 L450.93,422.9 ZM457.85,421.75 L459.6,423.33 L459.6,426.07 L457.85,427.65 L456.1,426.07 L456.1,423.33 ZM449.35,428.25 L450.93,426.5 L455.68,426.5 L457.25,428.25 L455.68,430 L450.93,430 Z" fill="#141318" transform="matrix(1,0,-0.1,1,43,0)"/><path d="M464.35,414.05 L465.93,412.3 L470.68,412.3 L472.25,414.05 L470.68,415.8 L465.93,415.8 ZM463.75,414.65 L465.5,416.23 L465.5,418.98 L463.75,420.55 L462,418.98 L462,416.23 ZM464.35,421.15 L465.93,419.4 L470.68,419.4 L472.25,421.15 L470.68,422.9 L465.93,422.9 ZM463.75,421.75 L465.5,423.33 L465.5,426.07 L463.75,427.65 L462,426.07 L462,423.33 ZM472.85,421.75 L474.6,423.33 L474.6,426.07 L472.85,427.65 L471.1,426.07 L471.1,423.33 ZM464.35,428.25 L465.93,426.5 L470.68,426.5 L472.25,428.25 L470.68,430 L465.93,430 Z" fill="#141318" transform="matrix(1,0,-0.1,1,43,0)"/><rect x="459.4" y="427" width="2.7" height="3.2" fill="#141318"/><rect x="368.5" y="406.8" width="57.2" height="27.3" rx="13.6" fill="none" stroke="#d22e28" stroke-width="3.2"/><rect x="361" y="436.2" width="8.8" height="15.7" fill="#141318"/><text x="365.4" y="449.6" font-family="Liberation Sans" font-weight="bold" font-size="13" fill="#e6e8f0" text-anchor="middle" transform="translate(365.4,0) scale(0.7,1) translate(-365.4,0)">S</text><circle cx="399.7" cy="443.6" r="6.3" fill="none" stroke="#141318" stroke-width="2.6"/><circle cx="399.7" cy="443.6" r="1.9" fill="#141318"/><path d="M399.7,449.9 L407,449.9" stroke="#141318" stroke-width="2.6"/><path d="M410,447.8 L422,447.8 L422,449 L439.3,449 L439.3,451.9 L410,451.9 Z" fill="#141318"/><path d="M443.4,437 Q440.7,444.5 442,451.9" fill="none" stroke="#141318" stroke-width="1.6"/><path d="M470,438 L468.5,450" stroke="#141318" stroke-width="2.4"/><path d="M473.5,437 Q476.5,444.5 474.5,451.9" fill="none" stroke="#141318" stroke-width="1.6"/><path d="M539,241 L540.08,239.8 L548.92,239.8 L550,241 L548.92,242.2 L540.08,242.2 ZM538.2,241.8 L539.4,242.88 L539.4,247.52 L538.2,248.6 L537,247.52 L537,242.88 ZM539,249.4 L540.08,248.2 L548.92,248.2 L550,249.4 L548.92,250.6 L540.08,250.6 ZM550.8,250.2 L552,251.28 L552,255.92 L550.8,257 L549.6,255.92 L549.6,251.28 ZM539,257.8 L540.08,256.6 L548.92,256.6 L550,257.8 L548.92,259 L540.08,259 ZM538.2,252.76 L539.4,253.84 L539.4,255.92 L538.2,257 L537,255.92 L537,253.84 Z" fill="#ecebe2" transform="matrix(1,0,-0.06,1,15.54,0)"/><path d="M693,469.6 L694.08,468.4 L702.92,468.4 L704,469.6 L702.92,470.8 L694.08,470.8 ZM692.2,470.4 L693.4,471.48 L693.4,475.57 L692.2,476.65 L691,475.57 L691,471.48 ZM693,477.45 L694.08,476.25 L702.92,476.25 L704,477.45 L702.92,478.65 L694.08,478.65 ZM704.8,478.25 L706,479.33 L706,483.42 L704.8,484.5 L703.6,483.42 L703.6,479.33 ZM693,485.3 L694.08,484.1 L702.92,484.1 L704,485.3 L702.92,486.5 L694.08,486.5 ZM692.2,480.59 L693.4,481.67 L693.4,483.42 L692.2,484.5 L691,483.42 L691,481.67 Z" fill="#ecebe2" transform="matrix(1,0,-0.06,1,29.19,0)"/><path d="M715.75,469.55 L716.78,468.4 L722.62,468.4 L723.65,469.55 L722.62,470.7 L716.78,470.7 ZM724.45,470.35 L725.6,471.38 L725.6,475.61 L724.45,476.65 L723.3,475.61 L723.3,471.38 ZM715.75,477.45 L716.78,476.3 L722.62,476.3 L723.65,477.45 L722.62,478.6 L716.78,478.6 ZM714.95,478.25 L716.1,479.29 L716.1,483.51 L714.95,484.55 L713.8,483.51 L713.8,479.29 ZM715.75,485.35 L716.78,484.2 L722.62,484.2 L723.65,485.35 L722.62,486.5 L716.78,486.5 Z" fill="#ecebe2" transform="matrix(1,0,-0.06,1,29.19,0)"/><path d="M729.95,469.55 L730.98,468.4 L736.82,468.4 L737.85,469.55 L736.82,470.7 L730.98,470.7 ZM729.15,470.35 L730.3,471.38 L730.3,475.61 L729.15,476.65 L728,475.61 L728,471.38 ZM729.95,477.45 L730.98,476.3 L736.82,476.3 L737.85,477.45 L736.82,478.6 L730.98,478.6 ZM738.65,478.25 L739.8,479.29 L739.8,483.51 L738.65,484.55 L737.5,483.51 L737.5,479.29 ZM729.95,485.35 L730.98,484.2 L736.82,484.2 L737.85,485.35 L736.82,486.5 L730.98,486.5 Z" fill="#ecebe2" transform="matrix(1,0,-0.06,1,29.19,0)"/><path d="M753.15,478.25 L754.3,479.29 L754.3,483.51 L753.15,484.55 L752,483.51 L752,479.29 ZM744.45,485.35 L745.48,484.2 L751.32,484.2 L752.35,485.35 L751.32,486.5 L745.48,486.5 ZM743.65,478.25 L744.8,479.29 L744.8,483.51 L743.65,484.55 L742.5,483.51 L742.5,479.29 ZM744.45,477.45 L745.48,476.3 L751.32,476.3 L752.35,477.45 L751.32,478.6 L745.48,478.6 Z" fill="#ecebe2" transform="matrix(1,0,-0.06,1,29.19,0)"/><path d="M773.25,469.55 L774.28,468.4 L780.12,468.4 L781.15,469.55 L780.12,470.7 L774.28,470.7 ZM772.45,470.35 L773.6,471.38 L773.6,475.61 L772.45,476.65 L771.3,475.61 L771.3,471.38 ZM773.25,477.45 L774.28,476.3 L780.12,476.3 L781.15,477.45 L780.12,478.6 L774.28,478.6 ZM772.45,478.25 L773.6,479.29 L773.6,483.51 L772.45,484.55 L771.3,483.51 L771.3,479.29 Z" fill="#ecebe2" transform="matrix(1,0,-0.06,1,29.19,0)"/><path d="M784.25,469.55 L785.28,468.4 L791.12,468.4 L792.15,469.55 L791.12,470.7 L785.28,470.7 ZM783.45,470.35 L784.6,471.38 L784.6,475.61 L783.45,476.65 L782.3,475.61 L782.3,471.38 ZM784.25,477.45 L785.28,476.3 L791.12,476.3 L792.15,477.45 L791.12,478.6 L785.28,478.6 ZM792.95,478.25 L794.1,479.29 L794.1,483.51 L792.95,484.55 L791.8,483.51 L791.8,479.29 ZM784.25,485.35 L785.28,484.2 L791.12,484.2 L792.15,485.35 L791.12,486.5 L785.28,486.5 Z" fill="#ecebe2" transform="matrix(1,0,-0.06,1,29.19,0)"/><path d="M801.55,469.55 L802.58,468.4 L808.42,468.4 L809.45,469.55 L808.42,470.7 L802.58,470.7 ZM800.75,470.35 L801.9,471.38 L801.9,475.61 L800.75,476.65 L799.6,475.61 L799.6,471.38 ZM801.55,477.45 L802.58,476.3 L808.42,476.3 L809.45,477.45 L808.42,478.6 L802.58,478.6 ZM800.75,478.25 L801.9,479.29 L801.9,483.51 L800.75,484.55 L799.6,483.51 L799.6,479.29 ZM810.25,478.25 L811.4,479.29 L811.4,483.51 L810.25,484.55 L809.1,483.51 L809.1,479.29 ZM801.55,485.35 L802.58,484.2 L808.42,484.2 L809.45,485.35 L808.42,486.5 L802.58,486.5 Z" fill="#ecebe2" transform="matrix(1,0,-0.06,1,29.19,0)"/><rect x="795.7" y="484" width="2.4" height="2.5" fill="#ecebe2"/><rect x="709.1" y="463.7" width="49.6" height="27.5" rx="13.7" fill="none" stroke="#d22e28" stroke-width="2.4"/></svg>
<div class="a rule"></div>
<div class="a title">OPERATION IN SHUTTER-<br>PRIORITY AUTO EXPOSURE<br>MODE</div>

<!-- step 1 -->
<div class="a num" style="left:31px;top:422px;">1.</div>
<div class="a txt" style="left:54px;top:423px;line-height:18.4px;letter-spacing:0.12px;">Set lens to its minimum aperture<br>setting (highest f-number).<br>With AF Nikkor and AI-P-Nikkor<br>lenses, lock lens aperture at mini-<br>mum setting.</div>

<div class="a txt" style="left:30px;top:652.5px;">40</div>

<!-- step 2 -->
<div class="a num" style="left:342px;top:277px;">2.</div>
<div class="a txt" style="left:366px;top:277.75px;line-height:18px;letter-spacing:0.03px;">While pressing MODE button, rotate command dial until “S” appears on LCD<br>panel and viewfinder.</div>

<!-- step 3 -->
<div class="a num" style="left:341px;top:503.5px;">3.</div>
<div class="a txt" style="left:365px;top:504.75px;line-height:18.7px;">Remove finger from MODE button, and rotate command dial to select desired<br>shutter speed.<br>Shutter speed indication changes one step at a time in the following sequence:<br><span style="letter-spacing:0.09px">30″-15″-8″-4″-2″-1″-2-4-8-15-30-60-125-250-500-1000-2000</span></div>
<div class="a" style="left:352.6px;top:544.5px;width:8.2px;height:8.2px;border-radius:50%;background:#1a1a1a;"></div>

<!-- left edge tab -->
<div class="a" style="left:-20px;top:508px;width:32px;height:42px;border-radius:50%;background:#b0b0ae;"></div>

</body></html>
